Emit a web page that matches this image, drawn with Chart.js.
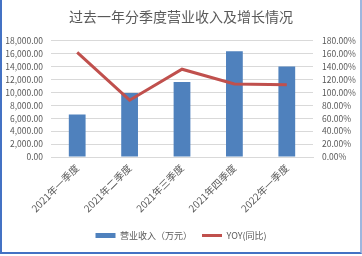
<!DOCTYPE html>
<html>
<head>
<meta charset="utf-8">
<script src="https://cdn.jsdelivr.net/npm/chart.js@4/dist/chart.umd.min.js"></script>
<style>
html,body{margin:0;padding:0;background:#fff;}
#wrap{position:relative;width:362px;height:256px;}
#frame{position:absolute;left:0;top:0;width:358px;height:252px;border-left:2px solid #4472C4;border-bottom:2px solid #4472C4;border-right:2px solid #9fb6de;pointer-events:none;}
</style>
</head>
<body>
<div id="wrap">
<canvas id="c" width="362" height="256"></canvas>
<div id="frame"></div>
</div>
<script>
const categories = ['2021年一季度', '2021年二季度', '2021年三季度', '2021年四季度', '2022年一季度'];
const revenue = [6600, 9900, 11600, 16400, 14000];
const yoy = [162, 88, 136, 113, 112];
const seriesNames = ['营业收入（万元）', 'YOY(同比)'];
const titleText = '过去一年分季度营业收入及增长情况';

const font = '"Noto Sans CJK SC", "Noto Sans", sans-serif';
const textColor = '#595959';
const gridColor = '#d9d9d9';

new Chart(document.getElementById('c'), {
  data: {
    labels: categories,
    datasets: [
      {
        type: 'line',
        label: seriesNames[1],
        data: yoy,
        yAxisID: 'y1',
        borderColor: '#C0504D',
        backgroundColor: '#C0504D',
        borderWidth: 3,
        pointRadius: 0,
        tension: 0,
        pointStyle: 'line',
        order: 0
      },
      {
        type: 'bar',
        label: seriesNames[0],
        data: revenue,
        yAxisID: 'y',
        backgroundColor: '#4F81BD',
        borderWidth: 0,
        categoryPercentage: 1,
        barPercentage: 0.32,
        pointStyle: 'rect',
        order: 1
      }
    ]
  },
  options: {
    responsive: false,
    devicePixelRatio: 1,
    animation: false,
    layout: { padding: { left: 0, right: 0, top: 0, bottom: 6 } },
    plugins: {
      title: {
        display: true,
        text: titleText,
        color: textColor,
        font: { family: font, size: 14, weight: 'normal' },
        padding: { top: 8, bottom: 16 }
      },
      legend: {
        position: 'bottom',
        reverse: true,
        labels: {
          color: textColor,
          font: { family: font, size: 9 },
          usePointStyle: true,
          pointStyleWidth: 20,
          boxHeight: 5,
          padding: 10
        }
      },
      tooltip: { enabled: false }
    },
    scales: {
      x: {
        offset: true,
        grid: { display: false, drawTicks: false },
        border: { display: true, color: gridColor, width: 1 },
        ticks: {
          color: textColor,
          font: { family: font, size: 10 },
          minRotation: 45,
          maxRotation: 45,
          autoSkip: false,
          padding: 5
        },
        afterFit: s => { s.height = 64; }
      },
      y: {
        position: 'left',
        min: 0,
        max: 18000,
        grid: { color: gridColor, drawTicks: false },
        border: { display: false },
        ticks: {
          stepSize: 2000,
          autoSkip: false,
          color: textColor,
          font: { family: font, size: 8.5 },
          padding: 8,
          callback: v => v.toLocaleString('en-US', { minimumFractionDigits: 2, maximumFractionDigits: 2 })
        },
        afterFit: s => { s.width = 51; }
      },
      y1: {
        position: 'right',
        min: 0,
        max: 180,
        grid: { display: false, drawTicks: false },
        border: { display: false },
        ticks: {
          stepSize: 20,
          autoSkip: false,
          color: textColor,
          font: { family: font, size: 8.5 },
          padding: 9,
          callback: v => v.toFixed(2) + '%'
        },
        afterFit: s => { s.width = 49; }
      }
    }
  }
});
</script>
</body>
</html>
